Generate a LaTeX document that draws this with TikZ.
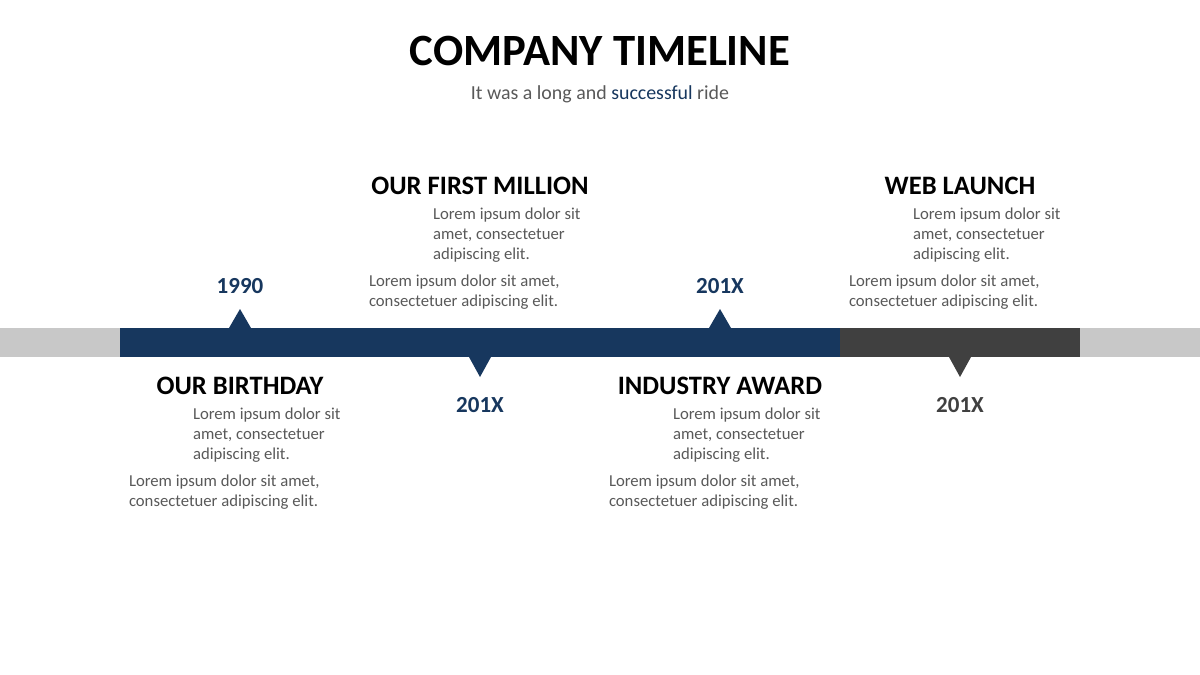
\documentclass[tikz,border=0pt]{standalone}
\usepackage{fontspec}
\setmainfont{Carlito}
\definecolor{navy}{HTML}{17375E}
\definecolor{dgray}{HTML}{404040}
\definecolor{lgray}{HTML}{C8C8C8}
\definecolor{txtgray}{HTML}{595959}
\begin{document}
\begin{tikzpicture}[x=1pt,y=-1pt,
  every node/.style={inner sep=0pt, outer sep=0pt},
  heading/.style={anchor=base, font=\fontsize{26.6}{30}\selectfont\bfseries, text=black},
  year/.style={anchor=base, font=\fontsize{23}{26}\selectfont\bfseries},
  body/.style={anchor=base west, text=txtgray}]
\useasboundingbox (0,0) rectangle (1200,675);
\fill[white] (0,0) rectangle (1200,675);
% title
\node[anchor=base, font=\fontsize{44.7}{50}\selectfont\bfseries] (title) at (600,65) {COMPANY TIMELINE};
\node[anchor=base, font=\fontsize{19.9}{24}\selectfont, text=txtgray] (sub) at (600,99) {It was a long and \textcolor{navy}{successful} ride};
% bar
\fill[lgray] (0,328) rectangle (1200,357);
\fill[navy] (120,328) rectangle (840,357);
\fill[dgray] (840,328) rectangle (1080,357);
% triangles
\fill[navy] (229,328) -- (240,309) -- (251,328) -- cycle;
\fill[navy] (709,328) -- (720,309) -- (731,328) -- cycle;
\fill[navy] (469,357) -- (480,377) -- (491,357) -- cycle;
\fill[dgray] (949,357) -- (960,377) -- (971,357) -- cycle;
% years
\node[year, text=navy] (y1) at (240,293) {1990};
\node[year, text=navy] (y2) at (480,412) {201X};
\node[year, text=navy] (y3) at (720,293) {201X};
\node[year, text=dgray] (y4) at (960,412) {201X};
% headings
\node[heading] (h1) at (240,394) {OUR BIRTHDAY};
\node[heading] (h2) at (480,194) {OUR FIRST MILLION};
\node[heading] (h3) at (720,394) {INDUSTRY AWARD};
\node[heading] (h4) at (960,194) {WEB LAUNCH};
% body texts
\newcommand{\parA}{\parbox[t]{200pt}{\raggedright\fontsize{16.7}{20}\selectfont Lorem ipsum dolor sit\\amet, consectetuer\\adipiscing elit.}}
\newcommand{\parB}{\parbox[t]{250pt}{\raggedright\fontsize{16.7}{20}\selectfont Lorem ipsum dolor sit amet,\\consectetuer adipiscing elit.}}
\node[body] (a1) at (193,419) {\parA};
\node[body] (b1) at (129,486) {\parB};
\node[body] (a2) at (433,219) {\parA};
\node[body] (b2) at (369,286) {\parB};
\node[body] (a3) at (673,419) {\parA};
\node[body] (b3) at (609,486) {\parB};
\node[body] (a4) at (913,219) {\parA};
\node[body] (b4) at (849,286) {\parB};
\end{tikzpicture}
\end{document}
